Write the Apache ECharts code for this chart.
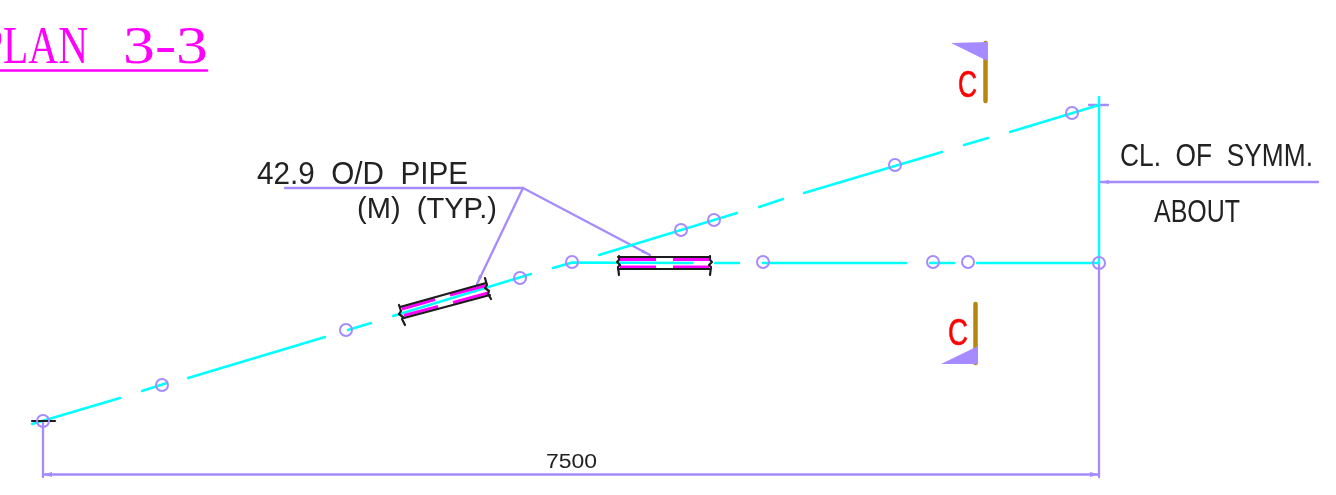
<!DOCTYPE html>
<html>
<head>
<meta charset="utf-8">
<style>html,body{margin:0;padding:0;background:#fff;overflow:hidden}#c{width:1336px;height:495px}</style>
<script src="https://cdn.jsdelivr.net/npm/echarts@6/dist/echarts.min.js"></script>
</head>
<body>
<div id="c"></div>
<script>
// Drawing geometry, in the drawing's own units (x right, y down)
const centreLines = [
  [[32,424],[120,398]], [[142,391],[167,383]], [[188,378],[325,337]], [[348,330],[371,323]],
  [[393,316],[531,274]], [[553,268],[572,262.5],[692,263]], [[715,263],[739,263]],
  [[763,263],[906,263]], [[930,263],[954,263]], [[977,263],[1099,263]],
  [[599,255],[737,213]], [[759,207],[783,199]], [[804,193],[942,152]],
  [[964,145],[988,138]], [[1010,132],[1099,105]], [[1099,97],[1099,263]]
];
const dimensionLines = [
  [[43,421],[43,477]], [[43,474.5],[1099,474.5]], [[1099,263],[1099,477]],
  [[1099,182],[1318,182]], [[1089,105],[1108,105]],
  [[285,188],[523,188]], [[523,188],[477,284]], [[523,188],[650,255]]
];
const pipeMagenta = [
  [[402,309],[435,299.5]], [[450,295],[486,285.5]],
  [[404,315.5],[438,306.5]], [[453,302.5],[489,292.8]],
  [[620,259.5],[656,259.5]], [[673,259.5],[709,259.5]],
  [[620,267],[656,267]], [[673,267],[709,267]]
];
const pipeOutline = [
  [[400,307],[486,283]], [[404,318],[490,295]],
  [[399,305],[401,311],[399,314],[403,317],[402,319],[405,325]],
  [[485,278],[487,285],[485,288],[489,291],[488,294],[491,299]],
  [[618,257],[710,257]], [[618,269],[710,269]],
  [[619,256],[619,260],[617,262],[620,265],[618,267],[619,275]],
  [[710,256],[710,260],[712,262],[709,265],[711,267],[710,275]],
  [[32,421],[55,421]]
];
const sectionPoles = [ [[985.5,43],[985.5,101]], [[975.5,304],[975.5,363]] ];
const titleRule = [ [[0,70.5],[207,70.5]] ];
const boltCircles = [
  [43,421],[162,385],[346,330],[520,278],[572,262],[681,230],[714,220],[895,165],
  [1072,113],[763,262],[933,262],[968,262],[1099,263]
];
const filledShapes = [
  [[951,43],[987.5,42],[987.5,61]],
  [[941,364],[978,364],[978,346]],
  [[43,474.5],[52,472],[52,477]],
  [[1099,474.5],[1090,472],[1090,477]],
  [[1099,182],[1109,180],[1109,184]],
  [[650,255],[641,252.5],[643,249.5]],
  [[477,284],[479,275],[482,277]]
];
const labelTexts = ['PLAN','3-3','42.9  O/D  PIPE','(M)  (TYP.)','CL.  OF  SYMM.','ABOUT','7500','C','C'];
// left, right, vertical centre, cap height
const labelBoxes = [
  [-20,88,46.5,35],[123,208,46.5,35],[257,468,174,22],[357,497,208,21],
  [1120,1313,156,22],[1154,1240,212,23],[546,597,461.5,15],[958,977,85.5,26],[948,968,333.5,26]
];
const labelFonts = ['Liberation Serif','Liberation Serif','Liberation Sans','Liberation Sans','Liberation Sans','Liberation Sans','Liberation Sans','Liberation Sans','Liberation Sans'];
const labelColors = ['#ff00ff','#ff00ff','#222','#222','#222','#222','#222','#ff0000','#ff0000'];
const labelStrokes = [0,0,0,0,0,0,0,0.6,0.6];

const CYAN='#00ffff', PURPLE='#a68aff', MAGENTA='#ff00ff', BLACK='#1c1c1c', BROWN='#b8860b';
const measure = document.createElement('canvas').getContext('2d');

function polylines(data, color, width, z, cap){
  return {type:'lines',coordinateSystem:'cartesian2d',polyline:true,silent:true,z:z,
    data:data.map(c=>({coords:c})),
    lineStyle:{color:color,width:width,opacity:1,cap:cap||'round',join:'round',curveness:0},effect:{show:false}};
}
const chart = echarts.init(document.getElementById('c'));
chart.setOption({
  animation:false,
  backgroundColor:'#fff',
  grid:{left:0,right:0,top:0,bottom:0},
  xAxis:{type:'value',min:0,max:1336,show:false},
  yAxis:{type:'value',min:0,max:495,inverse:true,show:false},
  tooltip:{show:false},
  series:[
    polylines(sectionPoles,BROWN,4.5,1),
    polylines(dimensionLines,PURPLE,2.3,2),
    polylines(centreLines,CYAN,2.4,3),
    polylines(pipeMagenta,MAGENTA,3,4,'butt'),
    polylines(pipeOutline,BLACK,2.2,5),
    polylines(titleRule,MAGENTA,2.6,5),
    {type:'custom',coordinateSystem:'cartesian2d',silent:true,z:6,clip:false,
     data:filledShapes.map((s,i)=>[s[0][0],s[0][1],i]),
     renderItem:(p,api)=>({type:'polygon',
       shape:{points:filledShapes[p.dataIndex].map(q=>api.coord(q))},
       style:{fill:PURPLE}})},
    {type:'scatter',silent:true,z:7,data:boltCircles,symbol:'circle',symbolSize:12,
     itemStyle:{color:'rgba(0,0,0,0)',borderColor:PURPLE,borderWidth:2,opacity:1}},
    {type:'custom',coordinateSystem:'cartesian2d',silent:true,z:8,clip:false,
     data:labelBoxes.map(b=>[b[0],b[2]]),
     renderItem:(p,api)=>{
       const i=p.dataIndex,b=labelBoxes[i],fam=labelFonts[i];
       const size=b[3]/(fam==='Liberation Serif'?0.655:0.716);
       measure.font=size+'px "'+fam+'"';
       const w=measure.measureText(labelTexts[i]).width;
       const a=api.coord([b[0],b[2]]),c=api.coord([b[1],b[2]]);
       return {type:'text',x:a[0],y:a[1]+size*0.05,scaleX:(c[0]-a[0])/w,
         style:{text:labelTexts[i],fontFamily:fam,fontSize:size,fill:labelColors[i],
           stroke:labelStrokes[i]?labelColors[i]:null,lineWidth:labelStrokes[i],align:'left',verticalAlign:'middle'}};
     }}
  ]
});
</script>
</body>
</html>
